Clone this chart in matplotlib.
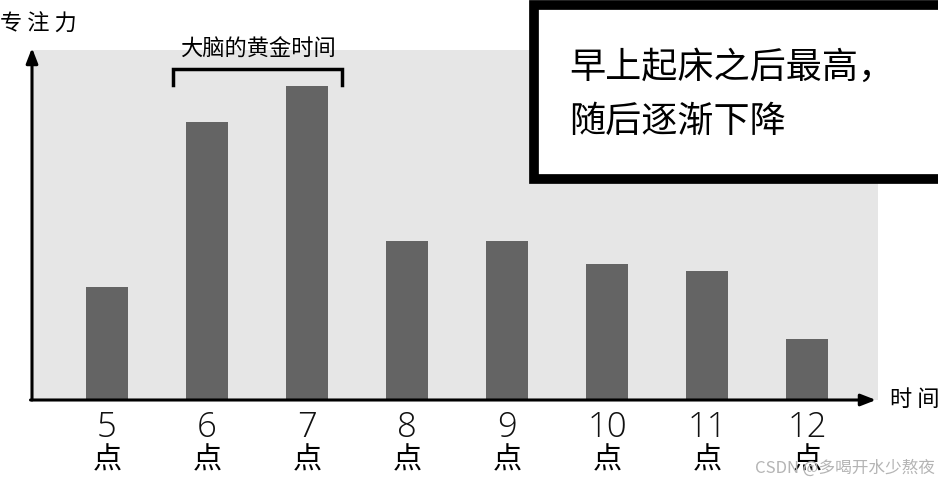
import matplotlib
matplotlib.use("Agg")
import matplotlib.pyplot as plt
from matplotlib.patches import Rectangle

plt.rcParams['font.family'] = ['Noto Sans CJK SC', 'DejaVu Sans']

hours = ["5", "6", "7", "8", "9", "10", "11", "12"]
tick_labels = [h + "\n点" for h in hours]
focus = [113, 278, 314, 159, 159, 136, 129, 61]
bracket_label = "大脑的黄金时间"
note_text = "早上起床之后最高，\n随后逐渐下降"
y_label = "专 注 力"
x_label = "时 间"
watermark = "CSDN @多喝开水少熬夜"

fig = plt.figure(figsize=(9.38, 4.84), dpi=100)
ax = fig.add_axes([0, 0, 1, 1])
ax.set_xlim(-1.07, 8.31)
ax.set_ylim(-84, 400)
ax.axis('off')

x = list(range(len(hours)))

# grey background panel
ax.add_patch(Rectangle((-0.75, 0), 8.46, 350, facecolor='#e6e6e6', edgecolor='none', zorder=0))

ax.bar(x, focus, width=0.42, color='#646464', zorder=2)

# axes with arrows
ax.annotate('', xy=(-0.75, 352), xytext=(-0.75, 0),
            arrowprops=dict(arrowstyle='-|>,head_length=0.9,head_width=0.35', lw=2.2, color='black', shrinkA=0, shrinkB=0), zorder=3)
ax.annotate('', xy=(7.69, 0), xytext=(-0.765, 0),
            arrowprops=dict(arrowstyle='-|>,head_length=0.9,head_width=0.35', lw=2.2, color='black', shrinkA=0, shrinkB=0), zorder=3)

# tick labels
for xi, lab in zip(x, tick_labels):
    num, ch = lab.split("\n")
    ax.text(xi, -28, num, ha='center', va='center', fontsize=25, family=['Open Sans', 'DejaVu Sans'],
            fontweight='light', color='#111111')
    ax.text(xi, -60, ch, ha='center', va='center', fontsize=21, color='black')

ax.text(-1.07, 376, y_label, ha='left', va='center', fontsize=16, color='black')
ax.text(7.83, 0, x_label, ha='left', va='center', fontsize=16, color='black')

# bracket
ax.plot([0.66, 0.66, 2.35, 2.35], [315, 331, 331, 315], color='black', lw=2.5, solid_joinstyle='miter', zorder=3)
ax.text(1.505, 351, bracket_label, ha='center', va='center', fontsize=16, color='black')

# note box
ax.add_patch(Rectangle((4.27, 221), 4.2, 174, facecolor='white', edgecolor='black', lw=7, zorder=4))
ax.text(4.62, 305, note_text, ha='left', va='center', fontsize=26,
        linespacing=1.65, color='black', zorder=5)

ax.text(8.28, -68, watermark, ha='right', va='center', fontsize=12, color='#b4b4b4', zorder=5)

fig.savefig("out.png", dpi=100)
